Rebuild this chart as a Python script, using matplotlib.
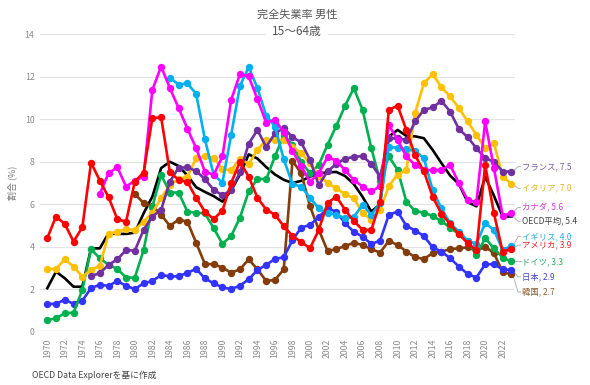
import matplotlib
matplotlib.use("Agg")
import matplotlib.pyplot as plt

plt.rcParams['font.family'] = ['Noto Sans CJK JP', 'DejaVu Sans']

N = None
years = list(range(1970, 2024))

france = [N]*5 + [2.62, 2.75, 3.14, 3.4, 3.84,
                  3.81, 4.79, 5.42, 5.73, 7.07, 7.72, 7.74, 7.56, 7.18, 6.68,
                  6.42, 6.67, 7.5, 8.85, 9.5, 8.69, 9.35, 9.58, 9.16, 8.91,
                  8.09, 6.9, 7.55, 7.9, 8.15, 8.23, 8.27, 7.9, 7.3, 9.1,
                  9.1, 9.03, 9.9, 10.45, 10.56, 10.87, 10.37, 9.54, 9.16, 8.64,
                  8.17, 8.0, 7.54, 7.54]
italy = [2.95, 2.95, 3.4, 3.06, 2.58, 2.9, 3.1, 4.6, 4.71, 4.82,
         4.79, 5.18, 5.6, 6.28, 6.91, 7.18, 7.3, 8.17, 8.25, 8.2,
         7.65, 7.6, 8.15, 7.9, 8.56, 9.03, 9.03, 9.03, 8.72, 8.4,
         7.93, 7.35, 7.0, 6.75, 6.48, 6.28, 5.6, 5.25, 5.73, 6.86,
         7.4, 7.6, 10.3, 11.7, 12.13, 11.52, 11.08, 10.53, 9.9, 9.27,
         8.64, 8.88, 7.3, 6.96]
canada = [N]*6 + [6.49, 7.46, 7.74, 6.83,
                  7.11, 7.3, 11.39, 12.49, 11.47, 10.53, 9.56, 8.64, 7.54, 7.38,
                  8.25, 10.92, 12.13, 12.02, 10.95, 9.85, 9.98, 9.4, 8.5, 7.8,
                  7.05, 7.46, 8.22, 8.06, 7.6, 7.15, 6.83, 6.6, 6.85, 9.74,
                  9.03, 8.25, 7.85, 7.62, 7.6, 7.62, 7.85, 6.99, 6.2, 6.1,
                  9.9, 7.7, 5.45, 5.6]
oecd = [2.04, 2.82, 2.51, 2.11, 2.11, 3.92, 3.92, 4.63, 4.6, 4.6,
        4.66, 5.57, 6.36, 7.7, 8.0, 7.8, 7.35, 6.8, 6.58, 6.38,
        6.12, 6.65, 7.4, 8.35, 8.15, 7.75, 7.4, 7.15, 7.0, 7.1,
        7.3, 7.45, 7.5, 7.52, 7.33, 6.95, 6.35, 5.65, 6.0, 9.19,
        9.5, 9.22, 9.2, 9.11, 8.56, 7.94, 7.35, 6.95, 6.1, 5.9,
        7.3, 6.4, 5.42, 5.42]
uk = [N]*14 + [11.97, 11.63, 11.7, 11.2, 9.06, 7.38,
               7.02, 9.27, 11.58, 12.46, 11.47, 10.17, 9.66, 8.12, 6.95, 6.83,
               6.3, 5.8, 5.6, 5.5, 5.35, 5.4, 5.97, 5.5, 6.05, 8.72,
               8.64, 8.6, 8.5, 8.17, 6.67, 5.8, 5.1, 4.71, 4.28, 4.13,
               5.1, 4.79, 3.84, 4.03]
usa = [4.4, 5.42, 5.07, 4.24, 4.91, 7.96, 7.11, 6.33, 5.29, 5.18,
       7.07, 7.49, 10.06, 10.1, 7.5, 7.15, 7.05, 6.3, 5.65, 5.3,
       5.7, 7.0, 8.0, 7.3, 6.3, 5.75, 5.5, 4.97, 4.5, 4.22,
       3.92, 4.79, 6.05, 6.36, 5.74, 5.2, 4.8, 4.78, 6.1, 10.45,
       10.64, 9.5, 8.3, 7.55, 6.36, 5.55, 5.07, 4.58, 4.17, 3.82,
       7.85, 5.57, 3.75, 3.9]
germany = [0.54, 0.62, 0.86, 0.89, 1.96, 3.88, 3.45, 3.14, 2.95, 2.54,
           2.54, 3.84, 5.89, 7.38, 6.55, 6.55, 5.65, 5.6, 5.57, 4.87,
           4.13, 4.5, 5.37, 6.6, 7.2, 7.18, 8.25, 9.27, 8.8, 8.0,
           7.46, 7.85, 8.8, 9.69, 10.64, 11.47, 10.45, 8.64, 7.1, 8.25,
           7.62, 6.12, 5.68, 5.6, 5.45, 5.2, 4.9, 4.58, 4.27, 3.6,
           4.4, 3.92, 3.48, 3.3]
japan = [1.3, 1.3, 1.5, 1.3, 1.45, 2.05, 2.2, 2.15, 2.38, 2.15,
         2.0, 2.27, 2.38, 2.66, 2.6, 2.6, 2.77, 2.95, 2.5, 2.27,
         2.08, 2.0, 2.16, 2.46, 2.9, 3.14, 3.42, 3.5, 4.31, 4.9,
         5.02, 5.4, 5.8, 5.65, 5.1, 4.7, 4.47, 4.13, 4.28, 5.5,
         5.65, 4.98, 4.76, 4.5, 3.97, 3.77, 3.45, 3.06, 2.71, 2.54,
         3.17, 3.17, 2.93, 2.9]
korea = [N]*10 + [6.49, 6.05, 5.92, 5.5, 4.98, 5.27, 5.18, 4.18, 3.18, 3.17,
                  3.01, 2.77, 2.93, 3.4, 2.93, 2.38, 2.43, 2.93, 8.05, 7.45,
                  5.9, 4.8, 3.8, 3.88, 4.03, 4.18, 4.08, 3.88, 3.72, 4.27,
                  4.08, 3.77, 3.5, 3.42, 3.69, 3.77, 3.88, 3.92, 3.97, 3.8,
                  4.0, 3.69, 2.8, 2.7]

names = ["フランス", "イタリア", "カナダ", "OECD平均", "イギリス", "アメリカ", "ドイツ", "日本", "韓国"]
end_values = ["7.5", "7.0", "5.6", "5.4", "4.0", "3.9", "3.3", "2.9", "2.7"]
series = [france, italy, canada, oecd, uk, usa, germany, japan, korea]
colors = ["#7030A0", "#FFC000", "#FF00FF", "#000000", "#00B0F0", "#FF0000", "#00B050", "#3333FF", "#843C0C"]
label_colors = ["#7B5AA6", "#E8B422", "#D83CD8", "#404040", "#25A9DC", "#E52222", "#25A85A", "#4646C8", "#8A5A30"]
label_y = [7.77, 6.75, 5.85, 5.2, 4.47, 4.07, 3.3, 2.57, 1.86]
draw_order = [3, 8, 7, 6, 1, 0, 4, 2, 5]

fig = plt.figure(figsize=(5.9, 3.85), dpi=100)
ax = fig.add_axes([0.0678, 0.139, 0.805, 0.7714])
ax.set_xlim(1969.17, 2023.4)
ax.set_ylim(0, 14)

for i in draw_order:
    xs = [y for y, v in zip(years, series[i]) if v is not None]
    vs = [v for v in series[i] if v is not None]
    if i == 3:
        ax.plot(xs, vs, color=colors[i], lw=1.9, zorder=3, solid_joinstyle='round')
    else:
        ax.plot(xs, vs, color=colors[i], lw=1.9, marker='o', ms=4.3, zorder=3,
                solid_joinstyle='round')

for sp in ax.spines.values():
    sp.set_visible(False)
ax.set_yticks(range(0, 15, 2))
ax.set_xticks(range(1970, 2023, 2))
ax.grid(axis='y', color='#e3e3e3', lw=0.9, zorder=0)
ax.axhline(0, color='#d0d0d0', lw=0.9, zorder=1)
ax.tick_params(length=0, labelsize=6.3, labelcolor='#8a8a8a', pad=4)
ax.tick_params(axis='x', pad=5)
for lab in ax.get_xticklabels():
    lab.set_rotation(90)
ax.set_ylabel("割合 (%)", fontsize=6.5, color='#777777', labelpad=5)

for i in range(len(series)):
    last = [v for v in series[i] if v is not None][-1]
    ax.plot([2023.15, 2023.75, 2024.05], [last, label_y[i], label_y[i]],
            color='#a8a8a8', lw=0.6, clip_on=False, zorder=2)
    ax.text(2024.15, label_y[i], f"{names[i]}, {end_values[i]}", fontsize=6.0,
            color=label_colors[i], va='center', ha='left', clip_on=False)

fig.text(0.503, 0.961, "完全失業率 男性", ha='center', va='center', fontsize=8, color='#555555')
fig.text(0.503, 0.918, "15～64歳", ha='center', va='center', fontsize=8.5, color='#555555',
         bbox=dict(facecolor='white', edgecolor='none', pad=4.5), zorder=5)
fig.text(0.054, 0.024, "OECD Data Explorerを基に作成", ha='left', va='center', fontsize=6.3, color='#444444')

fig.savefig("out.png", dpi=100)
